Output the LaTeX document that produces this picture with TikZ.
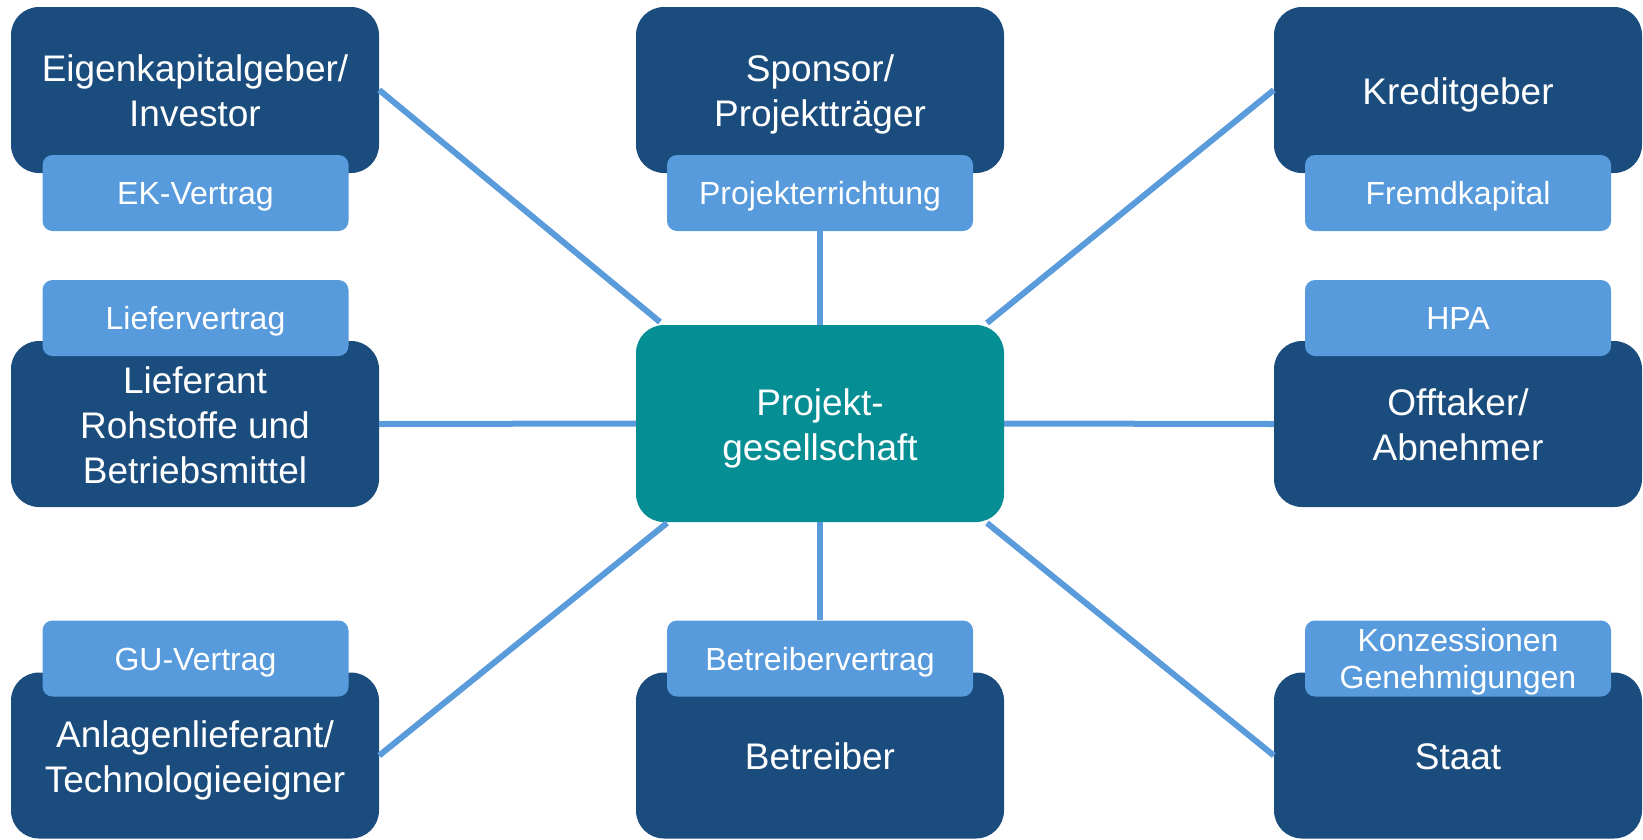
\documentclass[tikz,border=0pt]{standalone}
\usepackage{fontspec}
\setmainfont{Liberation Sans}
\definecolor{darkbox}{HTML}{1B4C7E}
\definecolor{labelbox}{HTML}{589BDC}
\definecolor{tealbox}{HTML}{058E93}
\definecolor{linkline}{HTML}{5A9BDC}
\tikzset{
  party/.style={rectangle, rounded corners=28pt, fill=darkbox, text=white, align=center,
    minimum width=368pt, minimum height=166pt, inner sep=0pt,
    font=\fontsize{37}{45}\selectfont},
  center box/.style={party, fill=tealbox, minimum height=197pt},
  tag/.style={rectangle, rounded corners=10pt, fill=labelbox, text=white, align=center,
    minimum width=306pt, minimum height=76pt, inner sep=0pt,
    font=\fontsize{32}{37}\selectfont},
  % vertical placement of the last baseline (caps block centred)
  big one/.style={text height=68pt, text depth=40pt},
  big two/.style={text height=110pt, text depth=37pt},
  big three/.style={text height=140pt, text depth=22pt},
  small one/.style={text height=43pt, text depth=20pt},
  small two/.style={text height=67pt, text depth=7pt},
  link/.style={draw=linkline, line width=6pt}
}
\begin{document}
\begin{tikzpicture}[x=1pt,y=-1pt]
\useasboundingbox (0,0) rectangle (1643,839);
% parties
\node[party, big two] (ek) at (195,90) {Eigenkapitalgeber/\\Investor};
\node[party, big two] (sp) at (820,90) {Sponsor/\\Projektträger};
\node[party, big one] (kr) at (1458,90) {Kreditgeber};
\node[party, big three] (li) at (195,424) {Lieferant\\Rohstoffe und\\Betriebsmittel};
\node[center box, big two] (pg) at (820,423.5) {Projekt-\\gesellschaft};
\node[party, big two] (of) at (1458,424) {Offtaker/\\Abnehmer};
\node[party, big two] (an) at (195,755.5) {Anlagenlieferant/\\Technologieeigner};
\node[party, big one] (be) at (820,755.5) {Betreiber};
\node[party, big one] (st) at (1458,755.5) {Staat};
% tags
\node[tag, small one] (ekl) at (195.5,193) {EK-Vertrag};
\node[tag, small one] (spl) at (820,193) {Projekterrichtung};
\node[tag, small one] (krl) at (1458,193) {Fremdkapital};
\node[tag, small one] (lil) at (195.5,318) {Liefervertrag};
\node[tag, small one] (ofl) at (1458,318) {HPA};
\node[tag, small one] (anl) at (195.5,658.5) {GU-Vertrag};
\node[tag, small one] (bel) at (820,658.5) {Betreibervertrag};
\node[tag, small two] (stl) at (1458,658.5) {Konzessionen\\Genehmigungen};
% free ends near the centre box
\coordinate (pgtl) at (660,322);
\coordinate (pgtr) at (987,323);
\coordinate (pgbl) at (667,523);
\coordinate (pgbr) at (987,523);
% connectors
\draw[link] (ek.east) -- (pgtl);
\draw[link] (spl.south) -- (pg.north);
\draw[link] (kr.west) -- (pgtr);
\draw[link] (li.east) -- (pg.west);
\draw[link] (pg.east) -- (of.west);
\draw[link] (an.east) -- (pgbl);
\draw[link] (pg.south) -- (bel.north);
\draw[link] (st.west) -- (pgbr);
\end{tikzpicture}
\end{document}
